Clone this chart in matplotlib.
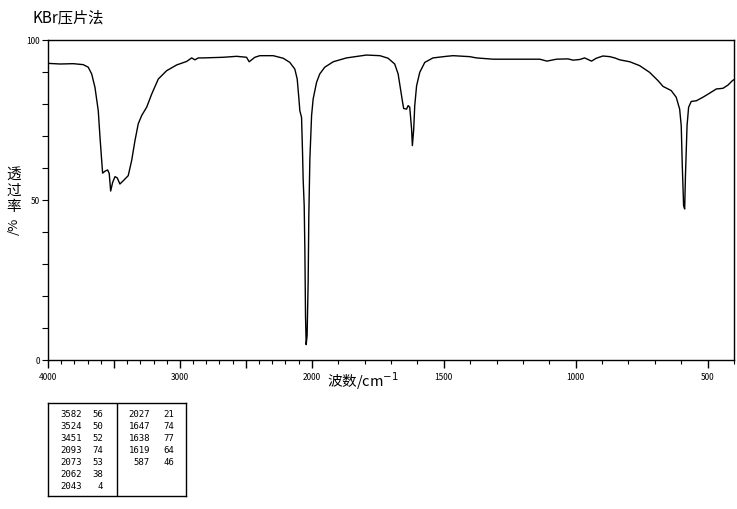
import numpy as np
import matplotlib
matplotlib.use("Agg")
import matplotlib.pyplot as plt

plt.rcParams['font.family'] = ['Noto Sans CJK SC', 'DejaVu Sans']

# IR spectrum: wavenumber (cm-1) and transmittance (%)
wavenumber = [
    4000, 3909, 3808, 3733, 3695, 3669, 3644, 3619, 3606, 3593, 3586, 3568,
    3548, 3536, 3525, 3510, 3492, 3475, 3455, 3430, 3392, 3366, 3341, 3316,
    3290, 3252, 3214, 3164, 3101, 3025, 2949, 2911, 2886, 2861, 2823, 2672,
    2570, 2495, 2475, 2432, 2394, 2293, 2217, 2167, 2129, 2111, 2098, 2091,
    2078, 2070, 2066, 2058, 2053, 2048, 2043, 2036, 2028, 2023, 2015, 2002,
    1995, 1982, 1970, 1951, 1919, 1869, 1793, 1742, 1711, 1686, 1673, 1664,
    1656, 1652, 1641, 1635, 1629, 1622, 1619, 1614, 1610, 1603, 1591, 1572,
    1541, 1490, 1465, 1402, 1376, 1313, 1136, 1109, 1073, 1029, 1010, 985,
    966, 940, 922, 897, 871, 852, 833, 795, 758, 720, 688, 669, 638, 619,
    606, 600, 596, 591, 587, 584, 578, 572, 562, 543, 518, 492, 467, 442,
    423, 406, 400,
]
transmittance = [
    92.7, 92.5, 92.6, 92.3, 91.5, 89.4, 85.2, 77.9, 69.7, 62.3, 58.4, 59.0,
    59.4, 58.3, 52.8, 55.5, 57.3, 56.9, 55.0, 56.0, 57.6, 62.3, 68.5, 73.8,
    76.4, 79.0, 83.1, 87.8, 90.4, 92.2, 93.3, 94.4, 93.8, 94.4, 94.4, 94.6,
    94.9, 94.6, 93.2, 94.6, 95.1, 95.1, 94.3, 93.0, 90.9, 87.8, 81.6, 77.9,
    75.8, 63.9, 56.6, 48.2, 34.7, 13.8, 4.8, 7.6, 24.3, 45.0, 62.8, 76.4,
    81.6, 86.8, 89.4, 91.5, 93.2, 94.4, 95.3, 95.1, 94.3, 92.5, 89.4, 84.7,
    80.5, 78.6, 78.4, 79.5, 79.0, 72.2, 67.0, 72.0, 79.5, 85.7, 89.9, 93.0,
    94.4, 94.9, 95.1, 94.8, 94.4, 94.0, 94.0, 93.4, 94.0, 94.1, 93.7, 93.9,
    94.4, 93.4, 94.3, 95.0, 94.8, 94.4, 93.8, 93.2, 92.0, 89.9, 87.3, 85.5,
    84.2, 82.1, 78.4, 73.2, 60.7, 48.2, 47.2, 57.6, 73.2, 79.0, 80.8, 81.0,
    82.1, 83.4, 84.7, 84.9, 85.9, 87.3, 87.6,
]

# peak table
peak_wn_left = [3582, 3524, 3451, 2093, 2073, 2062, 2043]
peak_t_left = [56, 50, 52, 74, 53, 38, 4]
peak_wn_right = [2027, 1647, 1638, 1619, 587]
peak_t_right = [21, 74, 77, 64, 46]

W, H = 737, 510


def fx(px):
    return px / W


def fy(py):
    return 1 - py / H


# the usual IR scale: doubled below 2000 cm-1
def fwd(w):
    w = np.asarray(w, dtype=float)
    return np.where(w > 2000, 2000 + (w - 2000) / 2, w)


def inv(u):
    u = np.asarray(u, dtype=float)
    return np.where(u > 2000, 2000 + (u - 2000) * 2, u)


fig = plt.figure(figsize=(W / 100, H / 100), dpi=100)
ax = fig.add_axes([fx(48), fy(361), fx(734) - fx(48), fy(41) - fy(361)])
ax.set_xscale('function', functions=(fwd, inv))
ax.plot(wavenumber, transmittance, color='black', linewidth=1.0)
ax.set_xlim(4000, 400)
ax.set_ylim(0, 100)

for s in ax.spines.values():
    s.set_linewidth(1.0)

major_x = [4000, 3500, 3000, 2500, 2000, 1500, 1000, 500]
ax.set_xticks(major_x)
ax.set_xticklabels(['4000', '', '3000', '', '2000', '1500', '1000', '500'])
ax.set_xticks([w for w in range(400, 4000, 100) if w not in major_x], minor=True)
ax.set_yticks(range(0, 101, 10))
ax.set_yticklabels(['0' if v == 0 else '50' if v == 50 else '100' if v == 100 else ''
                    for v in range(0, 101, 10)])
ax.tick_params(axis='x', which='major', length=6, width=1, pad=3, labelsize=6)
ax.tick_params(axis='x', which='minor', length=3, width=0.8)
ax.tick_params(axis='y', length=4, width=0.8, pad=2, labelsize=6)

fig.text(fx(32), fy(18), 'KBr压片法', fontsize=11, va='center', ha='left')
fig.text(fx(363), fy(381), '波数/cm$^{-1}$', fontsize=10.5, va='center', ha='center')

# vertical y label: Chinese characters upright, "/%" turned
for ch, py in zip(['透', '过', '率'], [175, 191, 207]):
    fig.text(fx(14), fy(py), ch, fontsize=10.5, va='center', ha='center')
fig.text(fx(14), fy(226), '/%', fontsize=9.5, va='center', ha='center', rotation=90)

# peak table box
tab = fig.add_axes([fx(48), fy(497), fx(186) - fx(48), fy(404) - fy(497)])
tab.set_xlim(48, 186)
tab.set_ylim(497, 404)
tab.set_xticks([])
tab.set_yticks([])
for s in tab.spines.values():
    s.set_linewidth(1.0)
tab.axvline(117, color='black', linewidth=1.0)
row_y = [415 + 12 * i for i in range(7)]
mono = dict(family='DejaVu Sans Mono', fontsize=6.5, va='center', ha='right')
for i, (w, t) in enumerate(zip(peak_wn_left, peak_t_left)):
    tab.text(82, row_y[i], str(w), **mono)
    tab.text(103, row_y[i], str(t), **mono)
for i, (w, t) in enumerate(zip(peak_wn_right, peak_t_right)):
    tab.text(150, row_y[i], str(w), **mono)
    tab.text(174, row_y[i], str(t), **mono)

fig.savefig('out.png', dpi=100)
